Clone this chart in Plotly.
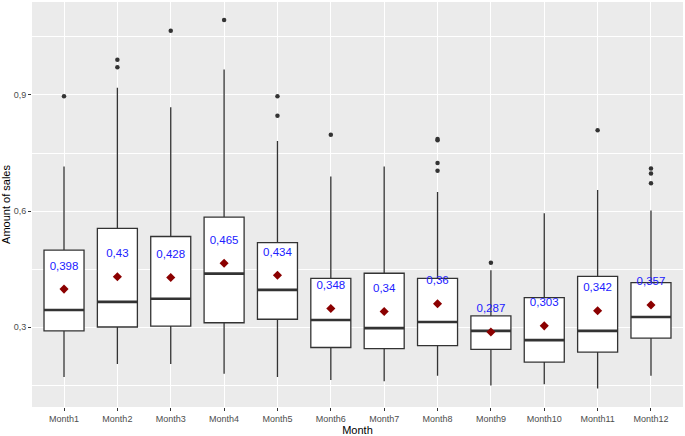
import plotly.graph_objects as go

months = ["Month1", "Month2", "Month3", "Month4", "Month5", "Month6",
          "Month7", "Month8", "Month9", "Month10", "Month11", "Month12"]
lower_whisker = [0.171, 0.204, 0.204, 0.179, 0.171, 0.163, 0.160, 0.174, 0.149, 0.152, 0.141, 0.174]
q1 = [0.290, 0.300, 0.302, 0.311, 0.320, 0.247, 0.244, 0.252, 0.242, 0.209, 0.235, 0.271]
median = [0.344, 0.365, 0.373, 0.438, 0.396, 0.318, 0.297, 0.313, 0.290, 0.266, 0.290, 0.326]
q3 = [0.499, 0.555, 0.534, 0.584, 0.518, 0.426, 0.439, 0.426, 0.329, 0.376, 0.431, 0.415]
upper_whisker = [0.715, 0.919, 0.868, 0.966, 0.781, 0.689, 0.715, 0.649, 0.447, 0.594, 0.654, 0.601]
means = [0.398, 0.43, 0.428, 0.465, 0.434, 0.348, 0.34, 0.36, 0.287, 0.303, 0.342, 0.357]
outliers = [[0.897], [0.991, 0.972], [1.066], [1.094], [0.897, 0.846], [0.797], [],
            [0.786, 0.783, 0.724, 0.704], [0.466], [], [0.809], [0.710, 0.697, 0.672]]
y_ticks = [0.3, 0.6, 0.9]
y_tick_labels = ["0,3", "0,6", "0,9"]
y_minor = [0.15, 0.45, 0.75, 1.05]

pos = list(range(len(months)))
BOX_W = 0.75
LINE = "#333333"
FONT = "Liberation Sans, Arial, sans-serif"

fig = go.Figure()
fig.add_trace(go.Box(
    x=pos, q1=q1, median=median, q3=q3,
    lowerfence=lower_whisker, upperfence=upper_whisker,
    width=BOX_W, boxpoints=False, whiskerwidth=0,
    fillcolor="white", line=dict(color=LINE, width=1.3),
    showlegend=False, hoverinfo="skip",
))

# thicker median segments (ggplot fatten)
mx, my = [], []
for i, m in zip(pos, median):
    mx += [i - BOX_W / 2, i + BOX_W / 2, None]
    my += [m, m, None]
fig.add_trace(go.Scatter(x=mx, y=my, mode="lines",
                         line=dict(color=LINE, width=2.6),
                         showlegend=False, hoverinfo="skip"))

# outliers
ox, oy = [], []
for i, vals in zip(pos, outliers):
    for v in vals:
        ox.append(i)
        oy.append(v)
fig.add_trace(go.Scatter(x=ox, y=oy, mode="markers",
                         marker=dict(color=LINE, size=4.5),
                         showlegend=False, hoverinfo="skip"))

# means
fig.add_trace(go.Scatter(x=pos, y=means, mode="markers",
                         marker=dict(color="#8B0000", size=7, symbol="diamond"),
                         showlegend=False, hoverinfo="skip"))

# mean labels
labels = [str(m).replace(".", ",") for m in means]
fig.add_trace(go.Scatter(x=pos, y=[m + 0.058 for m in means], mode="text",
                         text=labels, textposition="middle center",
                         textfont=dict(color="#2020FF", size=11.5, family=FONT),
                         showlegend=False, hoverinfo="skip"))

fig.update_layout(
    width=685, height=436,
    margin=dict(l=32, r=2, t=2, b=29),
    paper_bgcolor="white", plot_bgcolor="#EBEBEB",
    font=dict(family=FONT, color="black"),
)
fig.update_xaxes(
    range=[-0.6, 11.6], tickvals=pos, ticktext=months,
    showgrid=True, gridcolor="white", gridwidth=1.1, zeroline=False,
    ticks="outside", ticklen=3, tickcolor=LINE, tickwidth=1,
    tickfont=dict(size=9, color="#4D4D4D"),
    title=dict(text="Month", font=dict(size=11, color="black"), standoff=3),
    automargin=False,
)
fig.update_yaxes(
    range=[0.0931, 1.1405], tickvals=y_ticks, ticktext=y_tick_labels,
    showgrid=True, gridcolor="white", gridwidth=1.1, zeroline=False,
    ticks="outside", ticklen=3, tickcolor=LINE, tickwidth=1,
    tickfont=dict(size=9, color="#4D4D4D"),
    minor=dict(tickvals=y_minor, showgrid=True, gridcolor="white", gridwidth=0.5, ticks=""),
    title=dict(text="Amount of sales", font=dict(size=11, color="black"), standoff=3),
    automargin=False,
)

fig.write_html("out.html", config={"displayModeBar": False},
               post_script="document.body.style.margin='0';")
